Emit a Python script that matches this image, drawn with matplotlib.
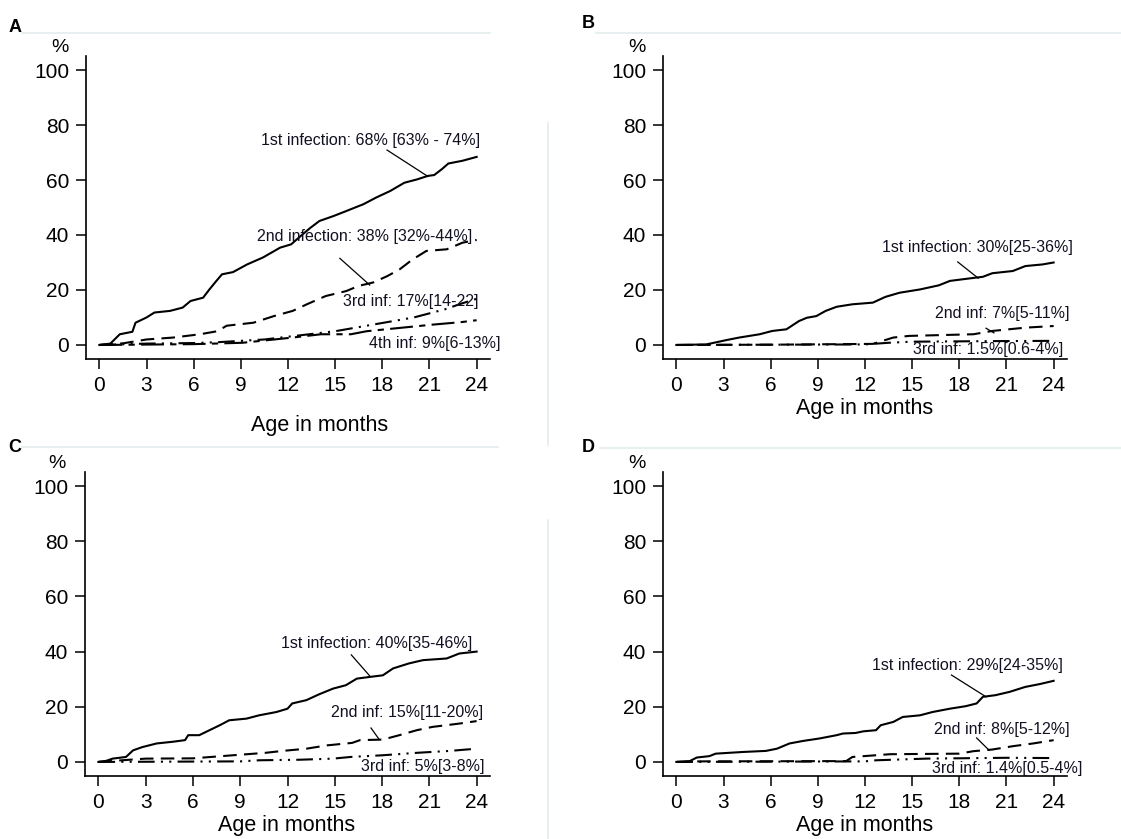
import matplotlib.pyplot as plt
from matplotlib.lines import Line2D

plt.rcParams['font.family'] = ['Liberation Sans', 'DejaVu Sans']

W, H = 1121, 839
ink = '#111122'

# ---- panel A: all children ----
a1_x = [0, 0.7, 1.3, 2.1, 2.3, 3.0, 3.5, 4.5, 5.3, 5.8, 6.6, 7.0, 7.4, 7.8, 8.5, 9.4, 10.4, 11.5, 12.2,
        12.8, 13.4, 14.0, 14.9, 15.7, 16.8, 17.6, 18.5, 19.4, 20.2, 20.9, 21.3, 21.8, 22.2, 23.1, 24.0]
a1_y = [0, 0.5, 3.9, 4.8, 8.1, 10.0, 11.8, 12.4, 13.6, 16.0, 17.2, 20.2, 23.0, 25.7, 26.5, 29.3, 31.8, 35.4, 36.6,
        39.6, 42.5, 45.1, 46.9, 48.7, 51.2, 53.6, 56.0, 59.0, 60.2, 61.5, 61.8, 64.0, 66.0, 67.0, 68.4]
a2_x = [0, 1.5, 3.0, 4.7, 6.4, 7.5, 8.1, 9.8, 11.1, 12.3, 13.2, 14.4, 15.7, 16.5, 17.4, 18.3, 19.1, 19.9,
        20.8, 22.1, 23.1, 24.0]
a2_y = [0, 0.6, 2.0, 2.7, 3.9, 5.0, 7.0, 8.1, 10.5, 12.4, 14.8, 17.8, 19.6, 21.5, 22.7, 25.0, 27.5, 31.0,
        34.2, 34.8, 37.2, 38.2]
a3_x = [0, 3.0, 6.0, 7.5, 9.0, 10.5, 12.0, 13.5, 15.0, 16.0, 17.0, 18.0, 19.0, 20.0, 21.0, 22.0, 23.0, 24.0]
a3_y = [0, 0.5, 0.7, 1.0, 1.5, 2.0, 3.0, 4.0, 5.0, 6.0, 7.0, 8.0, 9.0, 10.0, 11.5, 13.0, 15.0, 16.8]
a4_x = [0, 6.0, 9.1, 12.3, 14.1, 16.0, 17.0, 19.1, 21.2, 23.0, 24.0]
a4_y = [0, 0.3, 0.8, 2.7, 3.9, 3.9, 5.0, 6.2, 7.4, 8.3, 9.0]

# ---- panel B ----
b1_x = [0, 1.9, 3.2, 4.0, 5.3, 6.1, 7.0, 7.8, 8.3, 8.9, 9.5, 10.2, 11.2, 12.5, 13.3, 14.2, 15.5, 16.7,
        17.4, 18.5, 19.5, 20.1, 21.4, 22.2, 23.3, 24.0]
b1_y = [0, 0.2, 1.8, 2.7, 3.9, 5.1, 5.7, 8.7, 9.9, 10.5, 12.4, 13.9, 14.8, 15.4, 17.5, 19.0, 20.2, 21.7,
        23.3, 24.1, 24.8, 26.1, 26.9, 28.7, 29.3, 30.0]
b2_x = [0, 6.0, 12.5, 13.8, 14.8, 18.9, 20.1, 22.2, 24.0]
b2_y = [0, 0.1, 0.4, 2.7, 3.3, 3.9, 5.1, 6.3, 6.9]
b3_x = [0, 12.0, 13.5, 15.0, 20.0, 24.0]
b3_y = [0, 0.2, 0.8, 1.2, 1.4, 1.5]

# ---- panel C ----
c1_x = [0, 0.5, 0.9, 1.75, 2.2, 2.8, 3.7, 4.7, 5.5, 5.7, 6.4, 7.05, 7.7, 8.3, 9.4, 10.2, 11.3, 12.0, 12.3,
        13.2, 14.0, 14.9, 15.7, 16.4, 17.2, 18.05, 18.7, 19.7, 20.6, 22.1, 22.9, 24.0]
c1_y = [0, 0.4, 1.2, 1.8, 4.2, 5.4, 6.7, 7.3, 7.9, 9.7, 9.7, 11.5, 13.3, 15.1, 15.7, 16.9, 18.1, 19.3, 21.2,
        22.4, 24.5, 26.6, 27.8, 30.2, 30.8, 31.4, 33.9, 35.7, 36.9, 37.5, 39.3, 40.0]
c2_x = [0, 1.0, 3.0, 6.0, 8.5, 10.6, 11.7, 13.2, 14.5, 16.1, 16.6, 18.05, 19.1, 20.2, 21.2, 22.9, 24.0]
c2_y = [0, 0.4, 1.2, 1.3, 2.4, 3.3, 4.0, 4.8, 6.0, 6.9, 7.9, 8.1, 9.7, 11.5, 12.7, 13.9, 14.8]
c3_x = [0, 9.0, 10.2, 12.8, 14.9, 16.0, 18.0, 20.2, 22.3, 24.0]
c3_y = [0, 0.2, 0.6, 0.8, 1.2, 1.8, 2.4, 3.3, 4.0, 4.8]

# ---- panel D ----
d1_x = [0, 0.85, 1.3, 2.1, 2.5, 4.2, 5.7, 6.4, 7.2, 8.05, 9.1, 10.2, 10.6, 11.4, 11.9, 12.7, 13.0, 13.8,
        14.4, 15.5, 16.3, 17.4, 18.4, 19.1, 19.5, 20.3, 21.2, 22.2, 23.1, 24.0]
d1_y = [0, 0.3, 1.6, 2.1, 3.0, 3.6, 4.0, 4.8, 6.7, 7.6, 8.5, 9.7, 10.3, 10.5, 11.1, 11.5, 13.3, 14.5,
        16.3, 16.9, 18.1, 19.3, 20.2, 21.2, 23.6, 24.2, 25.4, 27.2, 28.2, 29.4]
d2_x = [0, 1.5, 10.8, 11.2, 13.6, 18.0, 18.9, 20.1, 21.4, 22.7, 24.0]
d2_y = [0, 0.2, 0.3, 1.8, 2.8, 3.0, 3.9, 4.5, 5.7, 6.7, 7.9]
d3_x = [0, 12.0, 12.7, 15.9, 21.0, 24.0]
d3_y = [0, 0.2, 0.6, 1.2, 1.5, 1.4]

# labels: text, right edge x, centre y, leader (x0, y0, x1, y1) or None
a_labels = [("1st infection: 68% [63% - 74%]", 24.2, 74.5, (18.3, 70.9, 20.9, 61.3)),
            ("2nd infection: 38% [32%-44%]", 23.7, 39.3, (15.3, 31.5, 17.2, 21.8)),
            ("3rd inf: 17%[14-22]", 24.1, 15.8, None),
            ("4th inf: 9%[6-13%]", 25.5, 0.6, None)]
b_labels = [("1st infection: 30%[25-36%]", 25.2, 35.3, (17.9, 30.2, 19.2, 24.3)),
            ("2nd inf: 7%[5-11%]", 25.0, 11.5, (19.7, 6.1, 20.2, 4.4)),
            ("3rd inf: 1.5%[0.6-4%]", 24.6, -1.8, None)]
c_labels = [("1st infection: 40%[35-46%]", 23.7, 43.1, (16.05, 38.8, 17.2, 31.3)),
            ("2nd inf: 15%[11-20%]", 24.4, 17.8, (17.3, 12.3, 17.8, 8.3)),
            ("3rd inf: 5%[3-8%]", 24.5, -1.5, None)]
d_labels = [("1st infection: 29%[24-35%]", 24.6, 34.8, (17.5, 31.5, 19.7, 23.6)),
            ("2nd inf: 8%[5-12%]", 25.0, 11.6, (19.1, 8.7, 19.9, 4.2)),
            ("3rd inf: 1.4%[0.5-4%]", 25.8, -2.5, None)]

xticks = [0, 3, 6, 9, 12, 15, 18, 21, 24]
yticks = [0, 20, 40, 60, 80, 100]

styles = ['-', (0, (6.5, 3.5)), (0, (8, 3, 1, 3, 1, 3)), (0, (11, 3, 3, 3))]

fig = plt.figure(figsize=(W / 100, H / 100), dpi=100)


def px_axes(left, top, right, bottom):
    return fig.add_axes([left / W, 1 - bottom / H, (right - left) / W, (bottom - top) / H])


def panel(rect, series, labels, letter, letter_xy, pct_xy, xlab_xy):
    ax = px_axes(*rect)
    for (xs, ys), ls in zip(series, styles):
        ax.plot(xs, ys, color='black', lw=1.5, linestyle=ls)
    for txt, xr, yc, lead in labels:
        ax.text(xr, yc, txt, ha='right', va='center', fontsize=11.5, color=ink)
        if lead is not None:
            ax.plot([lead[0], lead[2]], [lead[1], lead[3]], color='black', lw=0.9)
    ax.set_xlim(-0.85, 24.85)
    ax.set_ylim(-5.1, 105.1)
    ax.set_xticks(xticks)
    ax.set_yticks(yticks)
    ax.tick_params(labelsize=15, length=7, width=1.1, pad=5, colors='black')
    for s in ['top', 'right']:
        ax.spines[s].set_visible(False)
    for s in ['left', 'bottom']:
        ax.spines[s].set_linewidth(1.2)
    fig.text(letter_xy[0] / W, 1 - letter_xy[1] / H, letter, fontsize=13, fontweight='bold',
             ha='center', va='center')
    fig.text(pct_xy[0] / W, 1 - pct_xy[1] / H, '%', fontsize=14, ha='center', va='center')
    fig.text(xlab_xy[0] / W, 1 - xlab_xy[1] / H, 'Age in months', fontsize=15.5, ha='center', va='center')
    return ax


panel((86, 56, 490, 359), [(a1_x, a1_y), (a2_x, a2_y), (a3_x, a3_y), (a4_x, a4_y)], a_labels,
      'A', (15, 27), (60, 47), (320, 425))
panel((663, 56, 1067, 359), [(b1_x, b1_y), (b2_x, b2_y), (b3_x, b3_y)], b_labels,
      'B', (588, 24), (637, 47), (865, 408))
panel((85, 472, 490, 776), [(c1_x, c1_y), (c2_x, c2_y), (c3_x, c3_y)], c_labels,
      'C', (15, 448), (57, 463), (287, 825))
panel((663, 472, 1067, 776), [(d1_x, d1_y), (d2_x, d2_y), (d3_x, d3_y)], d_labels,
      'D', (588, 448), (637, 463), (865, 825))

# faint frame remnants from the original composite
faint = '#e4ecee'
for x0, y0, x1, y1 in [(22, 33, 490, 33), (596, 33, 1121, 33), (22, 447, 498, 447), (600, 448, 1121, 448),
                       (548, 123, 548, 445), (548, 520, 548, 839)]:
    fig.add_artist(Line2D([x0 / W, x1 / W], [1 - y0 / H, 1 - y1 / H], color=faint, lw=1.2))

fig.savefig('out.png', dpi=100)
